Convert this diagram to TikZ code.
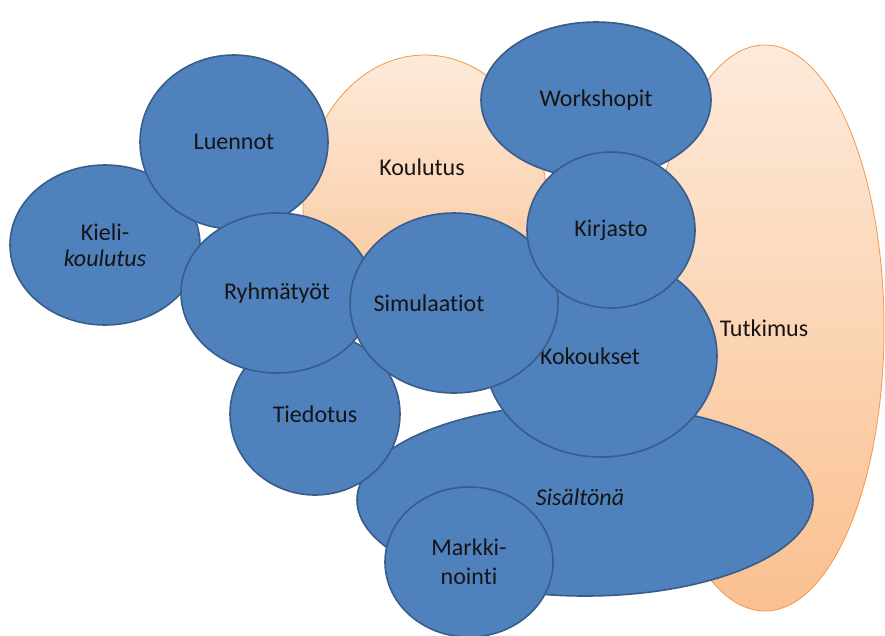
\documentclass[tikz,border=0pt]{standalone}
\usepackage{fontspec}
\setmainfont{Carlito}[Ligatures={NoCommon}]
\usetikzlibrary{shapes.geometric}
\definecolor{bfill}{HTML}{4F81BD}
\definecolor{bline}{HTML}{385D8A}
\definecolor{otop}{HTML}{FDEADA}
\definecolor{obot}{HTML}{FAC08F}
\definecolor{oline}{HTML}{F79646}
\definecolor{ink}{HTML}{151515}
\begin{document}
\begin{tikzpicture}[x=1pt,y=-1pt,
  bubble/.style={ellipse, draw=bline, line width=1.6pt, fill=bfill, inner sep=0pt,
    font=\fontsize{24}{27}\selectfont, text=ink, align=center},
  blob/.style={ellipse, draw=oline, line width=0.8pt, top color=otop, bottom color=obot, inner sep=0pt},
  lbl/.style={font=\fontsize{24}{27}\selectfont, text=ink}]
\useasboundingbox (0,0) rectangle (885,635);
% orange background areas
\node[blob, minimum width=238pt, minimum height=566pt] (tutk) at (765,328) {};
\node[lbl] (tutklbl) at (764,328) {Tutkimus};
\node[blob, minimum width=244pt, minimum height=300pt] (koul) at (425,205) {};
\node[lbl] (koullbl) at (422,167) {Koulutus};
% blue bubbles (back to front)
\node[bubble, minimum width=230pt, minimum height=156pt] (work) at (596,100) {Workshopit};
\node[bubble, minimum width=456pt, minimum height=192pt,
      label={[lbl, font=\fontsize{24}{27}\selectfont\itshape, xshift=-5pt, yshift=3pt]center:Sisältönä}] (sis) at (585,500) {};
\node[bubble, minimum width=232pt, minimum height=202pt,
      label={[lbl, xshift=-11pt]center:Kokoukset}] (koko) at (601,356) {};
\node[bubble, minimum width=190pt, minimum height=160pt,
      font=\fontsize{24}{26}\selectfont] (kieli) at (105,245) {Kieli-\\\textit{koulutus}};
\node[bubble, minimum width=188pt, minimum height=174pt] (luen) at (234,142) {Luennot};
\node[bubble, minimum width=170pt, minimum height=162pt] (tied) at (315,414) {Tiedotus};
\node[bubble, minimum width=192pt, minimum height=160pt] (ryhm) at (277,293) {Ryhmätyöt};
\node[bubble, minimum width=208pt, minimum height=180pt,
      label={[lbl, xshift=-25pt]center:Simulaatiot}] (simu) at (454,303) {};
\node[bubble, minimum width=168pt, minimum height=156pt] (kirj) at (611,230) {Kirjasto};
\node[bubble, minimum width=168pt, minimum height=150pt,
      font=\fontsize{24}{29}\selectfont] (mark) at (469,562) {Markki-\\nointi};
\end{tikzpicture}
\end{document}
